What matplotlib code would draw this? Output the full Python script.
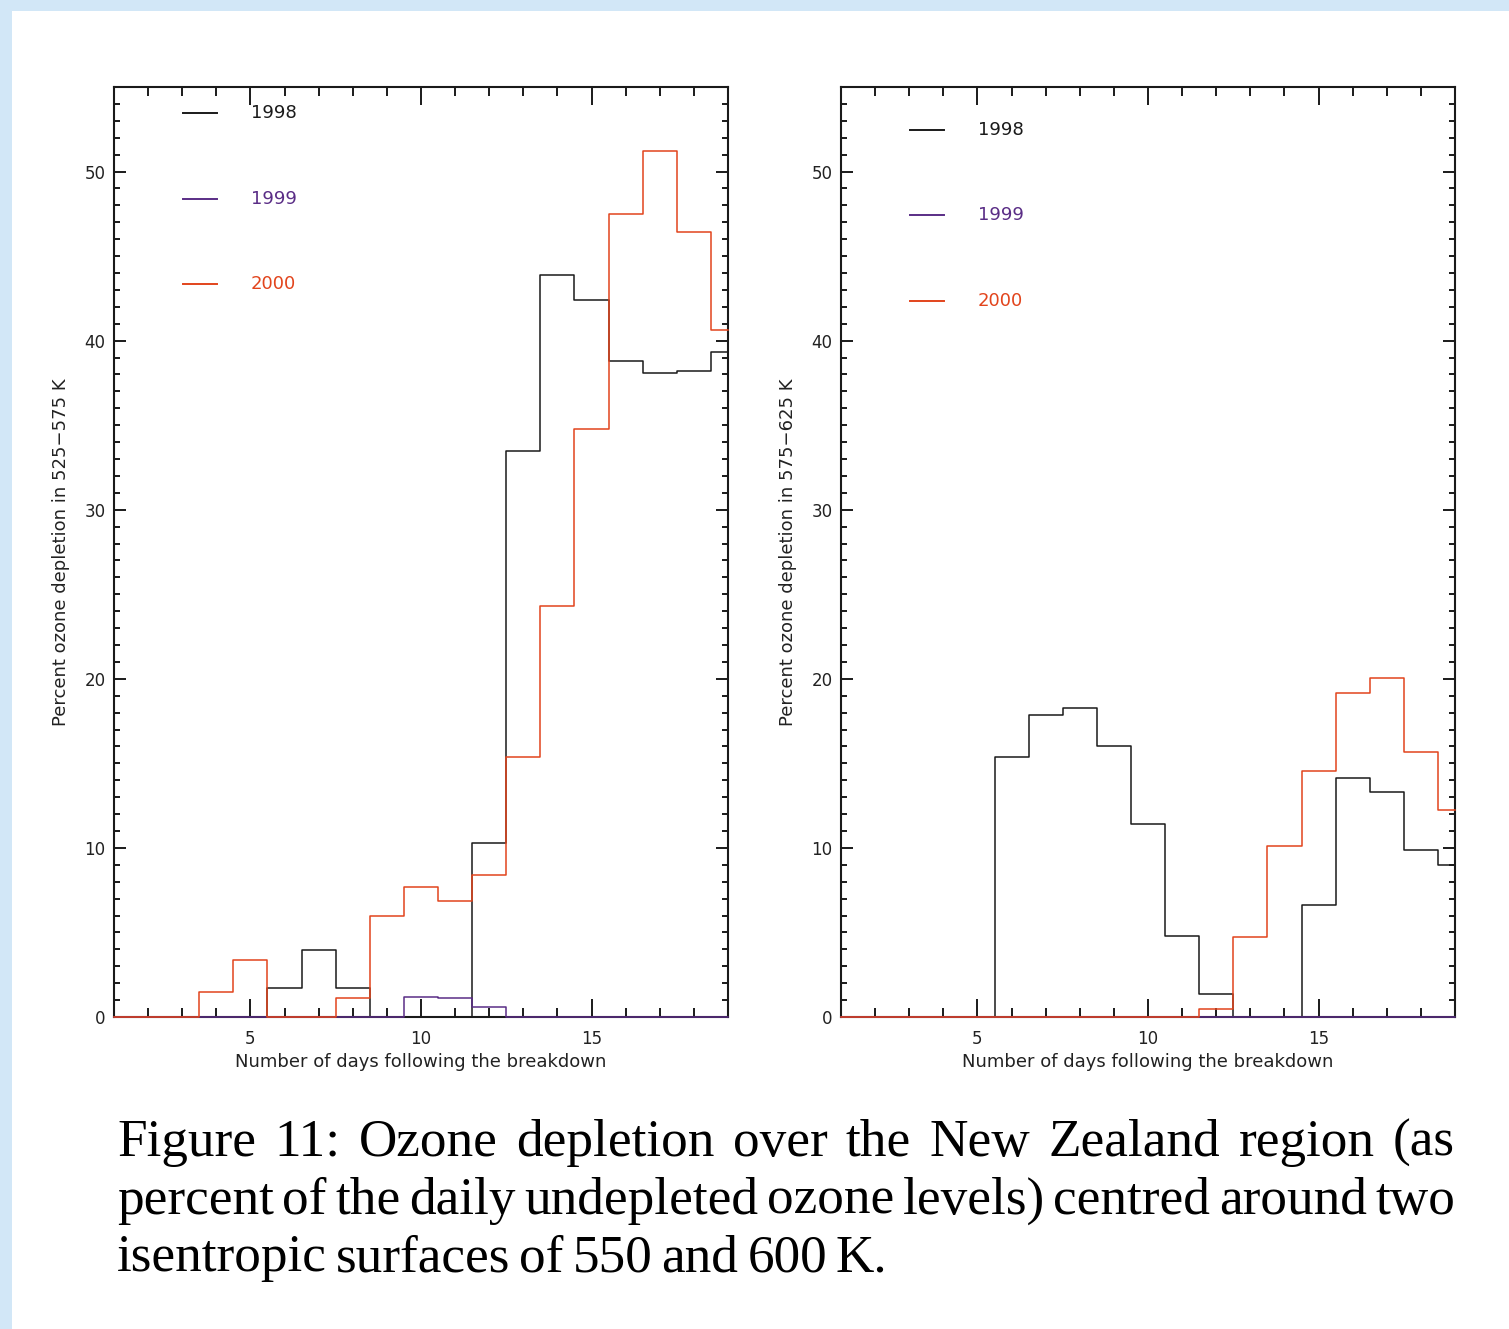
import matplotlib
matplotlib.use("Agg")
import matplotlib.pyplot as plt
from matplotlib.patches import Rectangle
from matplotlib.ticker import MultipleLocator
import numpy as np

# ------------------------------------------------------------------
# Data (percent ozone depletion per day after the vortex breakdown)
# ------------------------------------------------------------------
days = np.arange(1, 20)

# 525-575 K
left_1998 = [0, 0, 0, 0, 0, 1.7, 3.95, 1.7, 0, 0, 0, 10.3, 33.5, 43.9, 42.4, 38.8, 38.1, 38.2, 39.3]
left_1999 = [0, 0, 0, 0, 0, 0, 0, 0, 0, 1.2, 1.1, 0.6, 0, 0, 0, 0, 0, 0, 0]
left_2000 = [0, 0, 0, 1.45, 3.35, 0, 0, 1.15, 5.95, 7.7, 6.85, 8.4, 15.4, 24.3, 34.8, 47.5, 51.2, 46.4, 40.6]

# 575-625 K
right_1998 = [0, 0, 0, 0, 0, 15.4, 17.85, 18.3, 16.0, 11.4, 4.8, 1.35, 0, 0, 6.6, 14.15, 13.3, 9.85, 9.0]
right_1999 = [0] * 19
right_2000 = [0, 0, 0, 0, 0, 0, 0, 0, 0, 0, 0, 0.45, 4.75, 10.1, 14.55, 19.15, 20.05, 15.65, 12.25]

years = ["1998", "1999", "2000"]
colors = ["#1a1a1a", "#5a2d86", "#e2441c"]

ylabels = ["Percent ozone depletion in 525\u2212575 K",
           "Percent ozone depletion in 575\u2212625 K"]
xlabel = "Number of days following the breakdown"

caption_lines = [
    "Figure 11: Ozone depletion over the New Zealand region (as",
    "percent of the daily undepleted ozone levels) centred around two",
    "isentropic surfaces of 550 and 600 K.",
]

# ------------------------------------------------------------------
# Figure
# ------------------------------------------------------------------
W, H = 1509, 1329
fig = plt.figure(figsize=(W / 100, H / 100), dpi=100)
fig.patch.set_facecolor("#d2e7f7")
fig.patches.append(Rectangle((12 / W, 0), 1, 1 - 11 / H, transform=fig.transFigure,
                             facecolor="white", edgecolor="none", zorder=-5))

font = "DejaVu Sans"
tcol = "#222222"

panels = [
    (114, [left_1998, left_1999, left_2000], ylabels[0], 0.972, 0.0920),
    (841, [right_1998, right_1999, right_2000], ylabels[1], 0.954, 0.0920),
]

for x0, series, ylab, leg_top, leg_step in panels:
    ax = fig.add_axes([x0 / W, 1 - 1017 / H, 614 / W, 930 / H])
    for vals, c in zip(series, colors):
        ax.step(days, vals, where="mid", color=c, lw=1.1, clip_on=False, zorder=3)

    ax.set_xlim(1, 19)
    ax.set_ylim(0, 55)
    ax.xaxis.set_major_locator(MultipleLocator(5))
    ax.xaxis.set_minor_locator(MultipleLocator(1))
    ax.yaxis.set_major_locator(MultipleLocator(10))
    ax.yaxis.set_minor_locator(MultipleLocator(1))

    ax.tick_params(axis="both", which="both", direction="in", top=True, right=True,
                   width=1.4, colors="#1a1a1a", labelcolor=tcol, labelsize=12)
    ax.tick_params(axis="x", which="major", length=13, pad=9)
    ax.tick_params(axis="x", which="minor", length=6.5)
    ax.tick_params(axis="y", which="major", length=8.6, pad=6)
    ax.tick_params(axis="y", which="minor", length=4.3)
    for lab in ax.get_xticklabels() + ax.get_yticklabels():
        lab.set_family(font)
    for sp in ax.spines.values():
        sp.set_linewidth(1.5)
        sp.set_color("#1a1a1a")

    ax.set_xlabel(xlabel, family=font, fontsize=13, color=tcol)
    ax.xaxis.set_label_coords(0.5, -0.039)
    ax.set_ylabel(ylab, family=font, fontsize=13, color=tcol)
    ax.yaxis.set_label_coords(-0.071, 0.5)

    # legend drawn as short lines + coloured labels
    for i, (yr, c) in enumerate(zip(years, colors)):
        yy = leg_top - i * leg_step
        ax.plot([0.112, 0.168], [yy, yy], color=c, lw=1.4, transform=ax.transAxes)
        ax.text(0.223, yy, yr, color=c, family=font, fontsize=13,
                va="center", ha="left", transform=ax.transAxes)

# ------------------------------------------------------------------
# Caption (justified, Times-like serif)
# ------------------------------------------------------------------
renderer = fig.canvas.get_renderer()
cap_font = "Liberation Serif"
cx0, cx1 = 117, 1455
baselines = [1156, 1214, 1271]

# pick a size so that the tightest line fits the text width
probe_words = caption_lines[1].split()
probe = [fig.text(0, 0, w, fontsize=40, family=cap_font) for w in probe_words]
probe_w = sum(t.get_window_extent(renderer).width for t in probe)
for t in probe:
    t.remove()
cap_size = 40 * (cx1 - cx0 - 9 * (len(probe_words) - 1)) / probe_w

for n, (line, base) in enumerate(zip(caption_lines, baselines)):
    words = line.split()
    txts = [fig.text(0, 1 - base / H, w, fontsize=cap_size, family=cap_font,
                     va="baseline", ha="left", color="black") for w in words]
    widths = [t.get_window_extent(renderer).width for t in txts]
    if n < len(caption_lines) - 1:
        gap = (cx1 - cx0 - sum(widths)) / (len(words) - 1)
    else:
        gap = 9
    x = cx0
    for t, w in zip(txts, widths):
        t.set_x(x / W)
        x += w + gap

fig.savefig("out.png", dpi=100, facecolor=fig.get_facecolor())
